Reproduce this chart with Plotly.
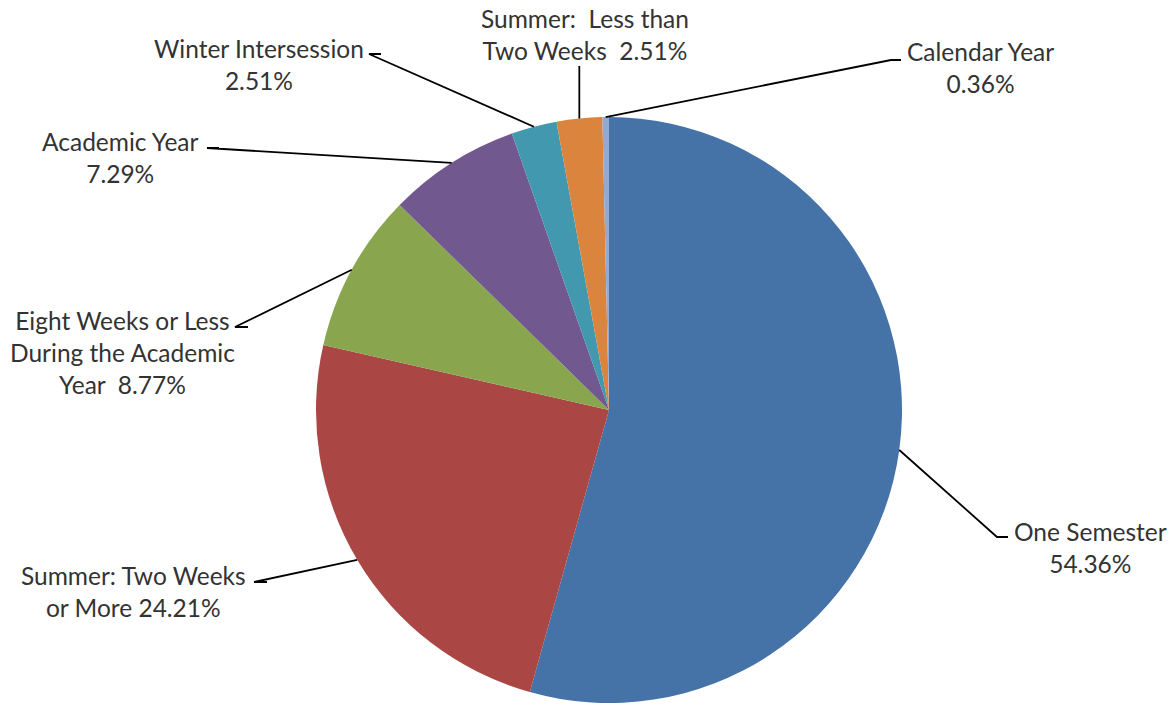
import math
import plotly.graph_objects as go

# ---- data ----
categories = [
    "One Semester",
    "Summer: Two Weeks or More",
    "Eight Weeks or Less During the Academic Year",
    "Academic Year",
    "Winter Intersession",
    "Summer:  Less than Two Weeks",
    "Calendar Year",
]
values = [54.36, 24.21, 8.77, 7.29, 2.51, 2.51, 0.36]
label_texts = [
    "One Semester<br>{v:.2f}%",
    "Summer: Two Weeks<br>or More {v:.2f}%",
    "Eight Weeks or Less<br>During the Academic<br>Year  {v:.2f}%",
    "Academic Year<br>{v:.2f}%",
    "Winter Intersession<br>{v:.2f}%",
    "Summer:  Less than<br>Two Weeks  {v:.2f}%",
    "Calendar Year<br>{v:.2f}%",
]
colors = ["#4572A7", "#AA4643", "#89A54E", "#71588F", "#4198AF", "#DB843D", "#93A9CF"]

# ---- layout (pixels) ----
W, H = 1172, 704
PIE_L, PIE_R, PIE_T, PIE_B = 316, 902, 117, 703
# label text centre (px) and leader elbow / end points (px)
label_pos = [(1090, 547), (133, 591), (122, 352), (120, 158), (259, 64), (585, 34), (980, 68)]
elbows = [
    [(997, 537), (1008, 537)],
    [(254, 582), (267, 582)],
    [(235, 327), (248, 327)],
    [(207, 148), (219, 148)],
    [(369, 54), (381, 54)],
    [None, 66],
    [(891, 60), (901, 60)],
]

cx = (PIE_L + PIE_R) / 2
cy = (PIE_T + PIE_B) / 2
r = min(PIE_R - PIE_L, PIE_B - PIE_T) / 2


def px2paper(x, y):
    return x / W, 1 - y / H


fig = go.Figure(go.Pie(
    labels=categories,
    values=values,
    sort=False,
    direction="clockwise",
    rotation=0,
    marker=dict(colors=colors, line=dict(width=0)),
    textinfo="none",
    hoverinfo="label+percent",
    domain=dict(x=[PIE_L / W, PIE_R / W], y=[1 - PIE_B / H, 1 - PIE_T / H]),
    showlegend=False,
))

total = sum(values)
cum = 0.0
shapes = []
annotations = []
font = dict(family="Lato, Open Sans, sans-serif", size=24.5, color="#333333")
for i, v in enumerate(values):
    mid = (cum + v / 2) / total * 2 * math.pi
    cum += v
    ex = cx + r * math.sin(mid)
    ey = cy - r * math.cos(mid)
    el = elbows[i]
    if el[0] is None:
        pts = [(ex, ey), (ex, el[1])]
    else:
        pts = [(ex, ey)] + list(el)
    path = ""
    for k, (x, y) in enumerate(pts):
        px, py = px2paper(x, y)
        path += ("M" if k == 0 else " L") + f" {px:.5f},{py:.5f}"
    shapes.append(dict(type="path", xref="paper", yref="paper", path=path,
                       line=dict(color="black", width=1.8)))
    lx, ly = px2paper(*label_pos[i])
    annotations.append(dict(x=lx, y=ly, xref="paper", yref="paper",
                            text=label_texts[i].format(v=v), showarrow=False,
                            xanchor="center", yanchor="middle", align="center",
                            font=font))

fig.update_layout(
    width=W, height=H,
    margin=dict(l=0, r=0, t=0, b=0),
    paper_bgcolor="white",
    plot_bgcolor="white",
    shapes=shapes,
    annotations=annotations,
)

fig.write_html("out.html", config={"displayModeBar": False},
               post_script="document.body.style.margin='0';document.body.style.padding='0';")
